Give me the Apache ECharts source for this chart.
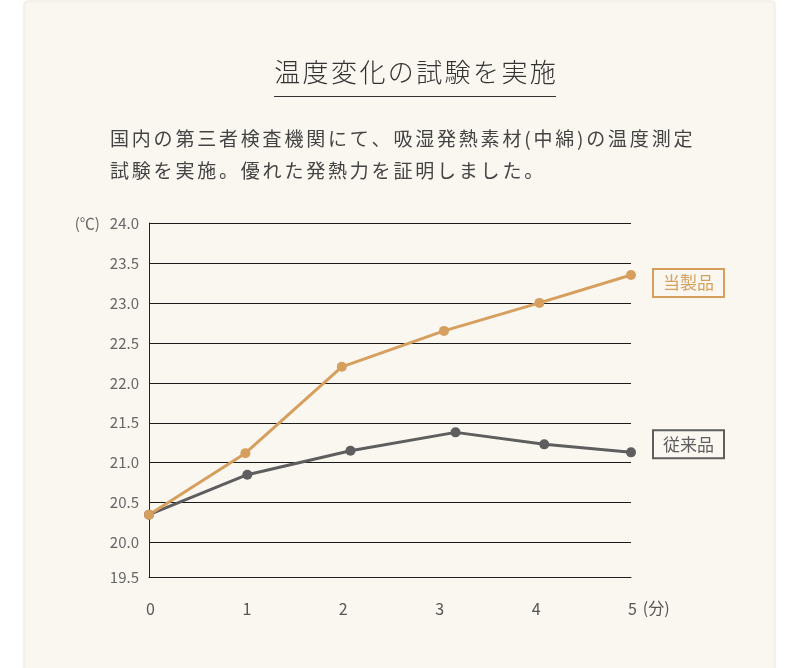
<!DOCTYPE html>
<html><head><meta charset="utf-8">
<script src="https://cdn.jsdelivr.net/npm/echarts@6/dist/echarts.min.js"></script>
<style>html,body{margin:0;padding:0;background:#ffffff}#c{width:800px;height:668px}</style>
</head><body><div id="c"></div>
<script>
// ---- data ----
const titleText = '温度変化の試験を実施';
const descLines = ['国内の第三者検査機関にて、吸湿発熱素材(中綿)の温度測定', '試験を実施。優れた発熱力を証明しました。'];
const seriesNames = ['当製品', '従来品'];
const productX = [0, 1.0, 2.0, 3.06, 4.05, 5];
const productY = [20.35, 21.12, 22.2, 22.65, 23.0, 23.35];
const conventionalX = [0, 1.02, 2.09, 3.18, 4.1, 5];
const conventionalY = [20.35, 20.85, 21.15, 21.38, 21.23, 21.13];
const yUnit = '(℃)';
const xUnit = '(分)';
const yBottomLabel = '19.5';

// ---- style ----
const FONT = '"Noto Sans CJK JP", "Noto Sans", sans-serif';
const ORANGE = '#d69f5e';
const GRAY = '#5e5e5e';
const BG = '#faf7f1';

const cv = document.createElement('canvas').getContext('2d');
function spacedText(str, x, y, size, weight, color, ls, align) {
  cv.font = weight + ' ' + size + 'px ' + FONT;
  const chars = Array.from(str);
  const widths = chars.map(ch => cv.measureText(ch).width);
  const total = widths.reduce((a, b) => a + b, 0) + ls * (chars.length - 1);
  let cx = align === 'center' ? x - total / 2 : x;
  const children = chars.map((ch, i) => {
    const el = { type: 'text', x: cx, y: y, silent: true,
      style: { text: ch, fontSize: size, fontWeight: weight, fontFamily: FONT, fill: color, align: 'left', verticalAlign: 'middle' } };
    cx += widths[i] + ls;
    return el;
  });
  return { type: 'group', children: children, silent: true };
}

const chart = echarts.init(document.getElementById('c'), null, { renderer: 'canvas' });
const pairs = (xs, ys) => xs.map((x, i) => [x, ys[i]]);

chart.setOption({
  animation: false,
  backgroundColor: '#ffffff',
  graphic: [
    { type: 'rect', z: -10, silent: true, shape: { x: 24, y: 1, width: 751, height: 720, r: 4 },
      style: { fill: BG, stroke: '#f1ede5', lineWidth: 1, shadowBlur: 3, shadowColor: 'rgba(0,0,0,0.05)' } },
    spacedText(titleText, 415, 72, 26, 300, '#333333', 2.4, 'center'),
    { type: 'line', silent: true, shape: { x1: 274, y1: 96.5, x2: 556, y2: 96.5 }, style: { stroke: '#333333', lineWidth: 1 } },
    spacedText(descLines[0], 110, 139, 19, 400, '#444444', 2.8, 'left'),
    spacedText(descLines[1], 110, 171, 19, 400, '#444444', 2.8, 'left')
  ],
  grid: { left: 149, right: 169, top: 223, bottom: 91 },
  xAxis: {
    type: 'value', min: 0, max: 5, interval: 1,
    axisLine: { show: true, lineStyle: { color: '#222222', width: 1 } },
    axisTick: { show: false },
    splitLine: { show: false },
    axisLabel: { color: '#555555', fontSize: 16, fontFamily: FONT, margin: 24, padding: [0, 0, 0, 3] },
    name: xUnit, nameLocation: 'end', nameGap: 9,
    nameTextStyle: { color: '#555555', fontSize: 16, fontFamily: FONT, verticalAlign: 'top', padding: [23, 0, 0, 0] }
  },
  yAxis: {
    type: 'value', min: 19.57, max: 24, splitNumber: 9,
    axisLine: { show: true, lineStyle: { color: '#222222', width: 1 } },
    axisTick: { show: false },
    splitLine: { show: true, lineStyle: { color: '#1a1a1a', width: 1 } },
    axisLabel: {
      color: '#666666', fontSize: 15, fontFamily: FONT, margin: 10,
      formatter: function (v) {
        if (v < 19.9) return yBottomLabel;
        if (v >= 23.99) return '{u|' + yUnit + '}' + v.toFixed(1);
        return v.toFixed(1);
      },
      rich: { u: { color: '#666666', fontSize: 15, fontFamily: FONT, padding: [0, 10, 0, 0] } }
    }
  },
  series: [
    {
      name: seriesNames[1], type: 'line', data: pairs(conventionalX, conventionalY),
      symbol: 'circle', symbolSize: 10, showSymbol: true,
      lineStyle: { color: GRAY, width: 3 }, itemStyle: { color: GRAY },
      endLabel: { show: true, formatter: '{a}', color: GRAY, fontSize: 17, fontFamily: FONT,
        borderColor: GRAY, borderWidth: 2, padding: [5, 9, 4, 9], distance: 23, offset: [0, -8], backgroundColor: BG }
    },
    {
      name: seriesNames[0], type: 'line', data: pairs(productX, productY),
      symbol: 'circle', symbolSize: 10, showSymbol: true,
      lineStyle: { color: ORANGE, width: 3 }, itemStyle: { color: ORANGE },
      endLabel: { show: true, formatter: '{a}', color: ORANGE, fontSize: 17, fontFamily: FONT,
        borderColor: ORANGE, borderWidth: 2, padding: [5, 9, 4, 9], distance: 23, offset: [0, 8], backgroundColor: BG }
    }
  ]
});
</script></body></html>
